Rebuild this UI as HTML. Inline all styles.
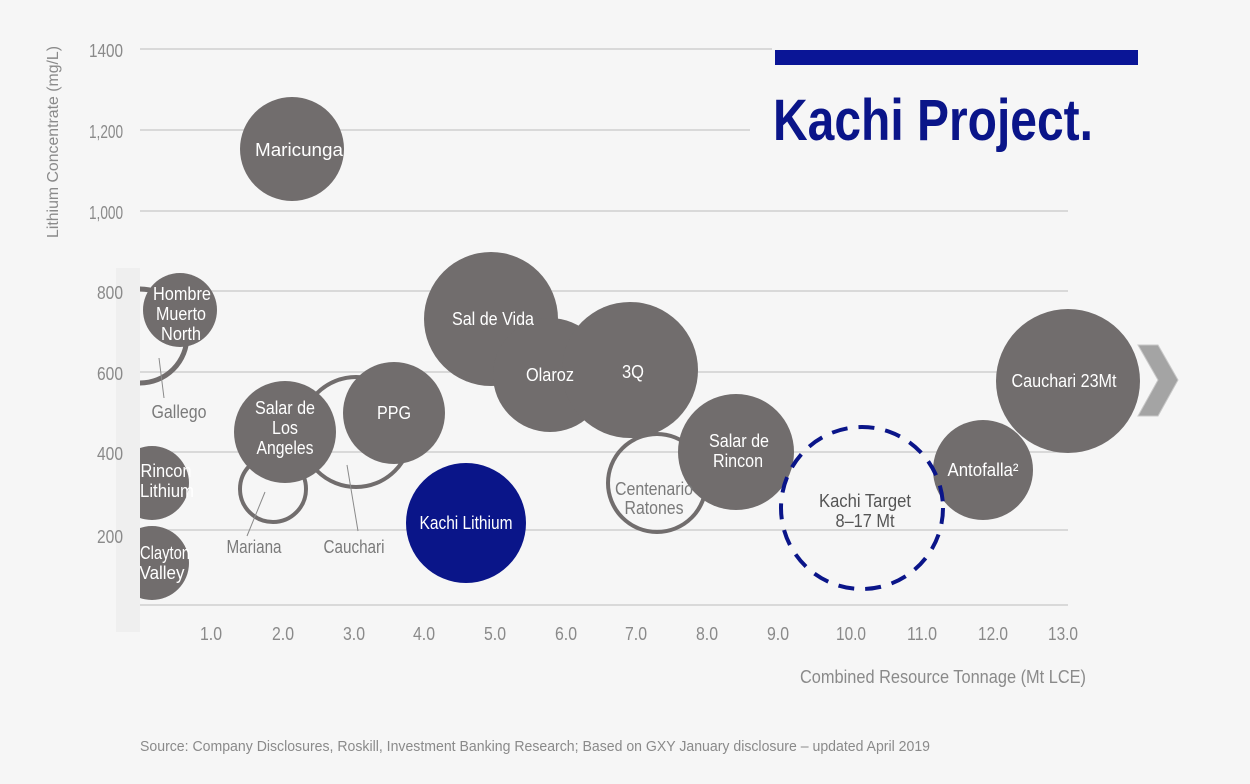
<!DOCTYPE html>
<html><head><meta charset="utf-8"><style>
html,body{margin:0;padding:0;background:#f6f6f6;}
svg{display:block;font-family:"Liberation Sans",sans-serif;}
</style></head><body>
<svg width="1250" height="784" viewBox="0 0 1250 784" xmlns="http://www.w3.org/2000/svg">
<rect width="1250" height="784" fill="#f6f6f6"/>
<rect x="116" y="268" width="24" height="364" fill="#efefef"/>
<g stroke="#cfcfcf" stroke-width="1.5">
<line x1="140" y1="49" x2="772" y2="49"/>
<line x1="140" y1="130" x2="750" y2="130"/>
<line x1="140" y1="211" x2="1068" y2="211"/>
<line x1="140" y1="291" x2="1068" y2="291"/>
<line x1="140" y1="372" x2="1068" y2="372"/>
<line x1="140" y1="452" x2="1068" y2="452"/>
<line x1="140" y1="530" x2="1068" y2="530"/>
<line x1="140" y1="605" x2="1068" y2="605"/>
</g>
<rect x="775" y="50" width="363" height="15" fill="#0a1596"/>
<text x="773" y="140" font-size="58" font-weight="bold" fill="#0a1589" textLength="320" lengthAdjust="spacingAndGlyphs">Kachi Project.</text>
<g font-size="18" fill="#8a8a8a" text-anchor="end" lengthAdjust="spacingAndGlyphs">
<text x="123" y="57" textLength="34" lengthAdjust="spacingAndGlyphs">1400</text>
<text x="123" y="138" textLength="34" lengthAdjust="spacingAndGlyphs">1,200</text>
<text x="123" y="219" textLength="34" lengthAdjust="spacingAndGlyphs">1,000</text>
<text x="123" y="299" textLength="26" lengthAdjust="spacingAndGlyphs">800</text>
<text x="123" y="380" textLength="26" lengthAdjust="spacingAndGlyphs">600</text>
<text x="123" y="460" textLength="26" lengthAdjust="spacingAndGlyphs">400</text>
<text x="123" y="543" textLength="26" lengthAdjust="spacingAndGlyphs">200</text>
</g>
<text transform="translate(58,238) rotate(-90)" font-size="16" fill="#8a8a8a" textLength="192" lengthAdjust="spacingAndGlyphs">Lithium Concentrate (mg/L)</text>
<g font-size="18" fill="#8a8a8a" text-anchor="middle">
<text x="211" y="640" textLength="22" lengthAdjust="spacingAndGlyphs">1.0</text>
<text x="283" y="640" textLength="22" lengthAdjust="spacingAndGlyphs">2.0</text>
<text x="354" y="640" textLength="22" lengthAdjust="spacingAndGlyphs">3.0</text>
<text x="424" y="640" textLength="22" lengthAdjust="spacingAndGlyphs">4.0</text>
<text x="495" y="640" textLength="22" lengthAdjust="spacingAndGlyphs">5.0</text>
<text x="566" y="640" textLength="22" lengthAdjust="spacingAndGlyphs">6.0</text>
<text x="636" y="640" textLength="22" lengthAdjust="spacingAndGlyphs">7.0</text>
<text x="707" y="640" textLength="22" lengthAdjust="spacingAndGlyphs">8.0</text>
<text x="778" y="640" textLength="22" lengthAdjust="spacingAndGlyphs">9.0</text>
<text x="851" y="640" textLength="30" lengthAdjust="spacingAndGlyphs">10.0</text>
<text x="922" y="640" textLength="30" lengthAdjust="spacingAndGlyphs">11.0</text>
<text x="993" y="640" textLength="30" lengthAdjust="spacingAndGlyphs">12.0</text>
<text x="1063" y="640" textLength="30" lengthAdjust="spacingAndGlyphs">13.0</text>
</g>
<text x="800" y="683" font-size="18" fill="#8a8a8a" textLength="286" lengthAdjust="spacingAndGlyphs">Combined Resource Tonnage (Mt LCE)</text>
<text x="140" y="751" font-size="15" fill="#8a8a8a" textLength="790" lengthAdjust="spacingAndGlyphs">Source: Company Disclosures, Roskill, Investment Banking Research; Based on GXY January disclosure – updated April 2019</text>

<defs><clipPath id="c"><rect x="140" y="0" width="1110" height="784"/></clipPath></defs>
<g clip-path="url(#c)">
<circle cx="140" cy="336" r="47" fill="none" stroke="#716d6d" stroke-width="5"/>
<g fill="#716d6d">
<circle cx="292" cy="149" r="52"/>
<circle cx="180" cy="310" r="37"/>
<circle cx="152" cy="483" r="37"/>
<circle cx="152" cy="563" r="37"/>
</g>
<g fill="none" stroke="#716d6d" stroke-width="4">
<circle cx="273" cy="489" r="33"/>
<circle cx="356" cy="432" r="55"/>
<circle cx="657" cy="483" r="49"/>
</g>
<g fill="#716d6d">
<circle cx="285" cy="432" r="51"/>
<circle cx="394" cy="413" r="51"/>
<circle cx="491" cy="319" r="67"/>
<circle cx="550" cy="375" r="57"/>
<circle cx="630" cy="370" r="68"/>
<circle cx="736" cy="452" r="58"/>
<circle cx="983" cy="470" r="50"/>
<circle cx="1068" cy="381" r="72"/>
</g>
<circle cx="466" cy="523" r="60" fill="#0a1589"/>
<circle cx="862" cy="508" r="81" fill="none" stroke="#0a1589" stroke-width="4" stroke-dasharray="16 11"/>
<g font-size="18" fill="#fff" text-anchor="middle">
<text x="166" y="477" textLength="51" lengthAdjust="spacingAndGlyphs">Rincon</text>
<text x="167" y="497" textLength="54" lengthAdjust="spacingAndGlyphs">Lithium</text>
<text x="165" y="559" textLength="50" lengthAdjust="spacingAndGlyphs">Clayton</text>
<text x="162" y="579" textLength="45" lengthAdjust="spacingAndGlyphs">Valley</text>
</g>
</g>
<polygon points="1138,345 1158,345 1178,380 1158,416 1138,416 1158,380" fill="#a4a4a4" stroke="#c8c8c8" stroke-width="1"/>
<g stroke="#8a8a8a" stroke-width="1">
<line x1="159" y1="358" x2="164" y2="398"/>
<line x1="265" y1="492" x2="247" y2="536"/>
<line x1="347" y1="465" x2="358" y2="531"/>
</g>
<g font-size="18" fill="#fff" text-anchor="middle">
<text x="299" y="156" textLength="88" lengthAdjust="spacingAndGlyphs">Maricunga</text>
<text x="182" y="300" textLength="58" lengthAdjust="spacingAndGlyphs">Hombre</text>
<text x="181" y="320" textLength="50" lengthAdjust="spacingAndGlyphs">Muerto</text>
<text x="181" y="340" textLength="40" lengthAdjust="spacingAndGlyphs">North</text>
<text x="285" y="414" textLength="60" lengthAdjust="spacingAndGlyphs">Salar de</text>
<text x="285" y="434" textLength="26" lengthAdjust="spacingAndGlyphs">Los</text>
<text x="285" y="454" textLength="57" lengthAdjust="spacingAndGlyphs">Angeles</text>
<text x="394" y="419" textLength="34" lengthAdjust="spacingAndGlyphs">PPG</text>
<text x="466" y="529" textLength="93" lengthAdjust="spacingAndGlyphs">Kachi Lithium</text>
<text x="493" y="325" textLength="82" lengthAdjust="spacingAndGlyphs">Sal de Vida</text>
<text x="550" y="381" textLength="48" lengthAdjust="spacingAndGlyphs">Olaroz</text>
<text x="633" y="378" textLength="22" lengthAdjust="spacingAndGlyphs">3Q</text>
<text x="739" y="447" textLength="60" lengthAdjust="spacingAndGlyphs">Salar de</text>
<text x="738" y="467" textLength="50" lengthAdjust="spacingAndGlyphs">Rincon</text>
<text x="983" y="476" textLength="71" lengthAdjust="spacingAndGlyphs">Antofalla²</text>
<text x="1064" y="387" textLength="105" lengthAdjust="spacingAndGlyphs">Cauchari 23Mt</text>
</g>
<g font-size="18" fill="#7a7a7a" text-anchor="middle">
<text x="179" y="418" textLength="55" lengthAdjust="spacingAndGlyphs">Gallego</text>
<text x="254" y="553" textLength="55" lengthAdjust="spacingAndGlyphs">Mariana</text>
<text x="354" y="553" textLength="61" lengthAdjust="spacingAndGlyphs">Cauchari</text>
<text x="654" y="495" textLength="78" lengthAdjust="spacingAndGlyphs">Centenario</text>
<text x="654" y="514" textLength="59" lengthAdjust="spacingAndGlyphs">Ratones</text>
</g>
<g font-size="18" fill="#555" text-anchor="middle">
<text x="865" y="507" textLength="92" lengthAdjust="spacingAndGlyphs">Kachi Target</text>
<text x="865" y="527" textLength="59" lengthAdjust="spacingAndGlyphs">8–17 Mt</text>
</g>
</svg>
</body></html>
